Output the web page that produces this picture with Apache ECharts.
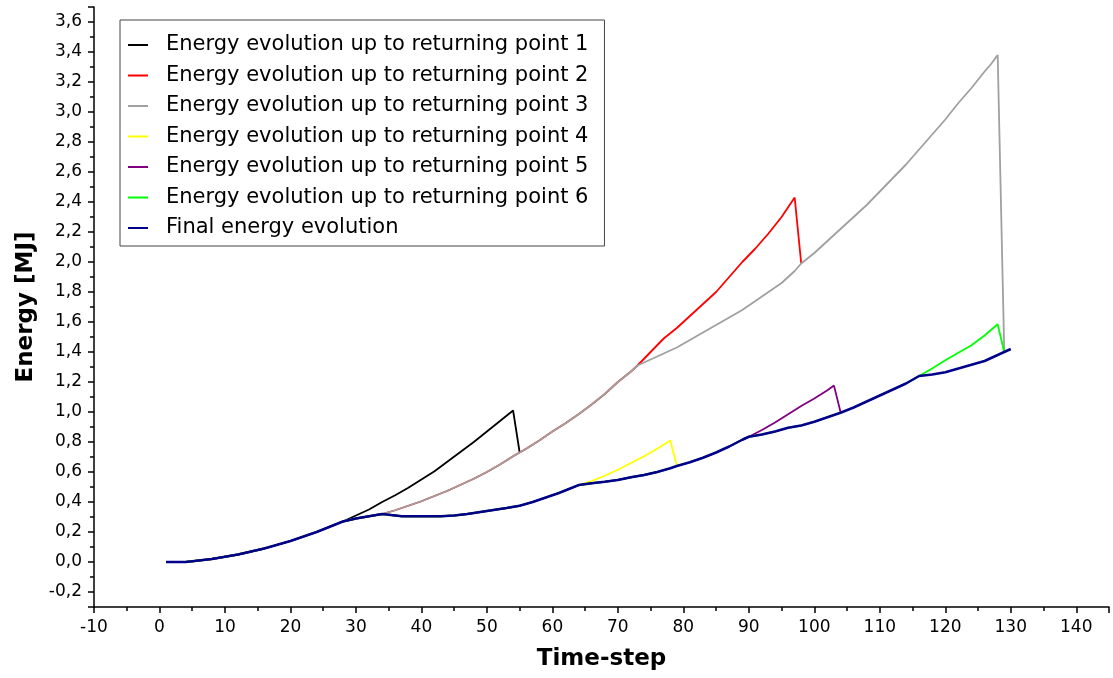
<!DOCTYPE html>
<html>
<head>
<meta charset="utf-8">
<script src="https://cdn.jsdelivr.net/npm/echarts@6/dist/echarts.min.js"></script>
<style>
html,body{margin:0;padding:0;background:#fff;}
#chart{width:1113px;height:678px;}
</style>
</head>
<body>
<div id="chart"></div>
<script>
// ---- Data (time-step, energy [MJ]) ----
const seriesNames = [
  'Energy evolution up to returning point 1',
  'Energy evolution up to returning point 2',
  'Energy evolution up to returning point 3',
  'Energy evolution up to returning point 4',
  'Energy evolution up to returning point 5',
  'Energy evolution up to returning point 6',
  'Final energy evolution'
];
const seriesColors = ['#000000', '#ff0000', '#a0a0a0', '#ffff00', '#800080', '#00ff00', '#00008b'];

const finalEnergy = [
  [1,0],[4,0],[6,0.01],[8,0.02],[10,0.035],[12,0.05],[14,0.07],[16,0.09],[18,0.115],[20,0.14],
  [22,0.17],[24,0.2],[26,0.235],[28,0.27],[30,0.29],[32,0.305],[34,0.32],[35,0.315],[37,0.305],
  [40,0.305],[43,0.305],[45,0.31],[47,0.32],[50,0.34],[53,0.36],[55,0.375],[57,0.4],[59,0.43],
  [61,0.46],[63,0.495],[64,0.513],[66,0.525],[68,0.535],[70,0.547],[72,0.565],[74,0.58],[76,0.6],
  [78,0.625],[79,0.64],[81,0.665],[83,0.695],[85,0.73],[87,0.77],[89,0.815],[90,0.835],[92,0.85],
  [94,0.87],[96,0.895],[98,0.91],[100,0.935],[102,0.965],[104,0.995],[106,1.03],[108,1.07],
  [110,1.11],[112,1.15],[114,1.19],[116,1.24],[118,1.25],[120,1.265],[122,1.29],[124,1.315],
  [126,1.34],[128,1.38],[129,1.40],[130,1.42]
];

const rp1Start = 28;
const rp1Branch = [[30,0.31],[32,0.35],[34,0.40],[36,0.445],[38,0.495],[40,0.55],[42,0.605],[44,0.67],
  [46,0.735],[48,0.80],[50,0.87],[52,0.94],[54,1.01],[55,0.73]];

const sharedStart = 34;
const sharedBranch = [[36,0.345],[38,0.375],[40,0.405],[42,0.44],[44,0.475],[46,0.515],[48,0.555],
  [50,0.6],[52,0.65],[54,0.705],[56,0.755],[58,0.81],[60,0.87],[62,0.925],[64,0.985],[66,1.05],
  [68,1.12],[70,1.2],[72,1.27],[73,1.31]];

const rp2Branch = [[75,1.40],[77,1.49],[79,1.56],[81,1.64],[83,1.72],[85,1.80],[87,1.90],[89,2.00],
  [91,2.09],[93,2.19],[95,2.30],[97,2.43],[98,1.99]];

const rp3Branch = [[75,1.35],[77,1.39],[79,1.43],[81,1.48],[83,1.53],[85,1.58],[87,1.63],[89,1.68],
  [91,1.74],[93,1.80],[95,1.86],[97,1.94],[98,1.99],[100,2.06],[102,2.14],[104,2.22],[106,2.30],
  [108,2.38],[110,2.47],[112,2.56],[114,2.65],[116,2.75],[118,2.85],[120,2.95],[122,3.06],
  [124,3.16],[126,3.27],[127,3.32],[128,3.38],[129,1.41]];

const rp4Start = 64;
const rp4Branch = [[66,0.54],[68,0.575],[70,0.615],[72,0.66],[74,0.705],[76,0.755],[78,0.81],[79,0.647]];

const rp5Start = 90;
const rp5Branch = [[92,0.88],[94,0.93],[96,0.985],[98,1.04],[100,1.09],[102,1.145],[103,1.176],[104,1.0]];

const rp6Start = 116;
const rp6Branch = [[118,1.29],[120,1.345],[122,1.395],[124,1.445],[126,1.51],[128,1.585],[129,1.40]];

// ---- Build series ----
function withBase(start, branch) {
  return finalEnergy.filter(p => p[0] <= start).concat(branch);
}
const seriesData = [
  withBase(rp1Start, rp1Branch),
  withBase(sharedStart, sharedBranch.concat(rp2Branch)),
  withBase(sharedStart, sharedBranch.concat(rp3Branch)),
  withBase(rp4Start, rp4Branch),
  withBase(rp5Start, rp5Branch),
  withBase(rp6Start, rp6Branch),
  finalEnergy
];

const FONT = 'DejaVu Sans';
const chart = echarts.init(document.getElementById('chart'), null, {renderer: 'canvas'});
chart.setOption({
  animation: false,
  backgroundColor: '#ffffff',
  grid: {left: 94, right: 4, top: 7, bottom: 71, containLabel: false},
  legend: {
    orient: 'vertical',
    left: 120, top: 20,
    padding: [14, 16, 7, 8],
    icon: 'rect',
    itemWidth: 20, itemHeight: 2, itemGap: 8.5,
    backgroundColor: '#ffffff',
    borderColor: '#444444', borderWidth: 1,
    textStyle: {fontFamily: FONT, fontSize: 21, color: '#000', lineHeight: 22, padding: [0, 0, 0, 13]},
    data: seriesNames
  },
  xAxis: {
    type: 'value', min: -10, max: 145, interval: 10,
    name: 'Time-step', nameLocation: 'middle', nameGap: 41,
    nameTextStyle: {fontFamily: FONT, fontSize: 23, fontWeight: 'bold', color: '#000'},
    axisLine: {onZero: false, lineStyle: {color: '#000', width: 1.5}},
    axisTick: {show: true, inside: false, length: 6, lineStyle: {color: '#000', width: 1.5}},
    minorTick: {show: true, splitNumber: 2, length: 4, lineStyle: {color: '#000', width: 1.5}},
    axisLabel: {fontFamily: FONT, fontSize: 17, color: '#000', margin: 12,
      formatter: v => (Math.round(v) % 10 === 0 && v <= 140) ? String(Math.round(v)) : ''},
    splitLine: {show: false}
  },
  yAxis: {
    type: 'value', min: -0.3, max: 3.7, splitNumber: 20,
    name: 'Energy [MJ]', nameLocation: 'middle', nameGap: 55,
    nameTextStyle: {fontFamily: FONT, fontSize: 23, fontWeight: 'bold', color: '#000'},
    axisLine: {show: true, onZero: false, lineStyle: {color: '#000', width: 1.5}},
    axisTick: {show: true, inside: false, length: 6, lineStyle: {color: '#000', width: 1.5}},
    minorTick: {show: true, splitNumber: 2, length: 4, lineStyle: {color: '#000', width: 1.5}},
    axisLabel: {fontFamily: FONT, fontSize: 17, color: '#000', margin: 12,
      formatter: v => {
        const k = Math.round(v * 10);
        if (Math.abs(v * 10 - k) > 1e-6 || k % 2 !== 0) return '';
        return (k / 10).toFixed(1).replace('.', ',');
      }},
    splitLine: {show: false}
  },
  series: seriesNames.map((n, i) => ({
    name: n,
    type: 'line',
    data: seriesData[i],
    symbol: 'none',
    showSymbol: false,
    color: seriesColors[i],
    lineStyle: {color: seriesColors[i], width: i === 6 ? 2.5 : 1.8},
    z: 2 + i
  }))
});
</script>
</body>
</html>
